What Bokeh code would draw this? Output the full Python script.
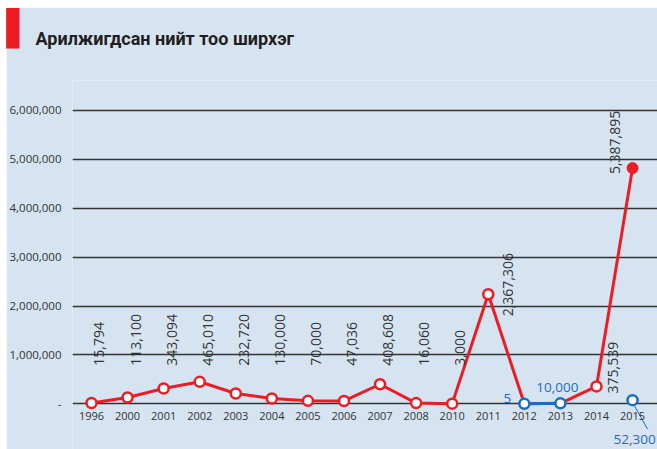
import math
from bokeh.plotting import figure
from bokeh.models import (ColumnDataSource, LabelSet, Label, FixedTicker,
                          NumeralTickFormatter, Range1d, Spacer)
from bokeh.layouts import column, row
from bokeh.core.properties import value
from bokeh.embed import file_html
from bokeh.resources import INLINE

# ---------------- data ----------------
years = ["1996", "2000", "2001", "2002", "2003", "2004", "2005", "2006",
         "2007", "2008", "2010", "2011", "2012", "2013", "2014", "2015"]
red_values = [15794, 129000, 313000, 450000, 210000, 109000, 60000, 58000,
              400000, 14000, 3000, 2240000, 5, 10000, 355000, 4820000]
red_labels = ["15,794", "113,100", "343,094", "465,010", "232,720", "130,000",
              "70,000", "47,036", "408,608", "16,060", "3,000", "2,367,306",
              "", "", "375,539", "5,387,895"]
blue_years = ["2012", "2013", "2015"]
blue_values = [5, 10000, 75000]
blue_labels = ["5", "10,000", "52,300"]
y_ticks = [0, 1000000, 2000000, 3000000, 4000000, 5000000, 6000000]
title_text = "Арилжигдсан нийт тоо ширхэг"

# ---------------- style ----------------
BG = "#d6e4f1"
RED = "#ed1c24"
BLUE = "#1a6cc4"
TXT = "#333333"
FONT = "Open Sans"
TFONT = "Roboto"

W, H = 651, 442
FL, FR, FT, FB = 66, 651, 73, 442          # frame edges (canvas px)
PX0, PPX = 85.0, 36.07                     # canvas x of first category, px per category
PY0, PPY = 396.3, 48.9e-6                  # canvas y of value 0, px per unit
X0, X1 = (FL - PX0) / PPX, (FR - PX0) / PPX
Y0, Y1 = (PY0 - FB) / PPY, (PY0 - FT) / PPY


def dx(px):
    return (px - PX0) / PPX


def dy(py):
    return (PY0 - py) / PPY


xi = {y: i for i, y in enumerate(years)}
red_x = list(range(len(years)))
blue_x = [xi[y] for y in blue_years]

p = figure(width=W, height=H, output_backend="svg", toolbar_location=None,
           x_range=Range1d(X0, X1), y_range=Range1d(Y0, Y1),
           min_border_left=FL, min_border_right=0, min_border_top=FT,
           min_border_bottom=0, background_fill_color=BG, border_fill_color=BG,
           outline_line_color=None, title=None)

# axes
p.yaxis.ticker = FixedTicker(ticks=y_ticks)
p.yaxis.formatter = NumeralTickFormatter(format="0,0")
p.yaxis.major_label_overrides = {0: "-"}
p.xaxis.ticker = FixedTicker(ticks=red_x)
p.xaxis.major_label_overrides = {i: y for i, y in enumerate(years)}
p.xaxis.fixed_location = dy(398)
for ax in (p.xaxis[0], p.yaxis[0]):
    ax.axis_line_color = None
    ax.major_tick_line_color = None
    ax.minor_tick_line_color = None
    ax.major_tick_out = 0
    ax.major_tick_in = 0
    ax.minor_tick_out = 0
    ax.minor_tick_in = 0
    ax.major_label_text_font = FONT
    ax.major_label_text_color = TXT
p.yaxis.major_label_text_font_size = "11.5px"
p.yaxis.major_label_standoff = 11
p.xaxis.major_label_text_font_size = "11px"
p.xaxis.major_label_standoff = 6
p.xgrid.visible = False
p.ygrid.ticker = FixedTicker(ticks=y_ticks)
p.ygrid.grid_line_color = "#333333"
p.ygrid.grid_line_width = 1.5

# red series
p.line(red_x, red_values, line_color=RED, line_width=3)
red_marker_idx = [i for i, y in enumerate(years) if y not in blue_years and y != "2015"]
p.scatter([red_x[i] for i in red_marker_idx], [red_values[i] for i in red_marker_idx],
          size=10, fill_color="white", line_color=RED, line_width=2.5)
p.scatter([red_x[-1]], [red_values[-1]], size=11, fill_color=RED, line_color=RED)

# blue series
p.line(blue_x[:2], blue_values[:2], line_color=BLUE, line_width=3)
p.scatter(blue_x, blue_values, size=10, fill_color="white", line_color=BLUE, line_width=2.5)

# leader line from the 2015 blue point to its label
p.segment(x0=[blue_x[2] + 1 / PPX], y0=[blue_values[2] - 4 / PPY],
          x1=[blue_x[2] + 15 / PPX], y1=[blue_values[2] - 29 / PPY],
          line_color=BLUE, line_width=1)

# rotated value labels (general)
gen = list(range(11))
src = ColumnDataSource(dict(x=[red_x[i] for i in gen], y=[780000] * len(gen),
                            t=[red_labels[i] for i in gen]))
p.add_layout(LabelSet(x="x", y="y", text="t", source=src, angle=math.pi / 2,
                      x_offset=8, text_align="left", text_baseline="middle",
                      text_font=value(FONT), text_font_size="14px", text_color=TXT))


def rot_label(i, ox, oy):
    p.add_layout(Label(x=red_x[i], y=red_values[i], text=red_labels[i], angle=math.pi / 2,
                       x_offset=ox, y_offset=oy, text_align="left", text_baseline="middle",
                       text_font=FONT, text_font_size="14px", text_color=TXT))


rot_label(11, 20, -22)
rot_label(14, 17, -7)
rot_label(15, -18, -6)


def blue_label(i, ox, oy, align):
    p.add_layout(Label(x=blue_x[i], y=blue_values[i], text=blue_labels[i], x_offset=ox,
                       y_offset=oy, text_align=align, text_baseline="alphabetic",
                       text_font=FONT, text_font_size="13.5px", text_color=BLUE))


blue_label(0, -13, 5, "right")
blue_label(1, -3, 16, "center")
blue_label(2, 2, -39, "center")

# title and red block (in the above panel, so they are not clipped)
p.add_layout(Label(x=dx(0), y=dy(20), text="\u258c", text_align="left",
                   text_baseline="middle", text_font="DejaVu Sans",
                   text_font_size="34px", text_color=RED), "above")
p.add_layout(Label(x=dx(29), y=dy(31), text=title_text,
                   text_font=TFONT, text_font_size="18px", text_font_style="bold",
                   text_color="#231f20", text_baseline="alphabetic"), "above")

layout = column(Spacer(height=7), row(Spacer(width=6), p))
open("out.html", "w").write(file_html(layout, INLINE))
